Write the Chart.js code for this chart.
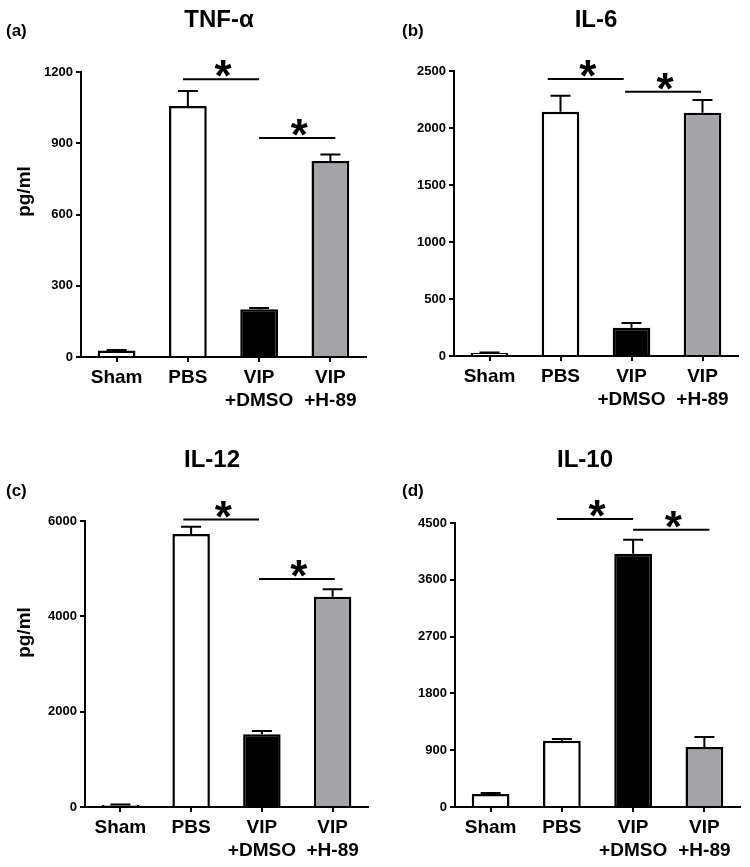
<!DOCTYPE html>
<html>
<head>
<meta charset="utf-8">
<script src="https://cdn.jsdelivr.net/npm/chart.js@4.4.1/dist/chart.umd.min.js"></script>
<style>
  body { margin: 0; background: #fff; }
  #page { position: relative; width: 750px; height: 867px; font-family: 'Liberation Sans', Arial, sans-serif; color: #000; }
  canvas { position: absolute; }
  .title { position: absolute; width: 200px; text-align: center; font-weight: bold; font-size: 24px; line-height: 1; }
  .tag { position: absolute; font-weight: bold; font-size: 17px; line-height: 1; }
  .ylab { position: absolute; width: 100px; text-align: center; font-weight: bold; font-size: 19px; line-height: 1; transform: rotate(-90deg); }
</style>
</head>
<body>
<div id="page">
  <canvas id="tnf" width="375" height="430" style="left:0;top:0"></canvas>
  <canvas id="il6" width="375" height="430" style="left:375px;top:0"></canvas>
  <canvas id="il12" width="375" height="437" style="left:0;top:430px"></canvas>
  <canvas id="il10" width="375" height="437" style="left:375px;top:430px"></canvas>

  <div class="title" style="left:119px;top:7px">TNF-α</div>
  <div class="title" style="left:496px;top:7px">IL-6</div>
  <div class="title" style="left:112px;top:447px">IL-12</div>
  <div class="title" style="left:485px;top:447px">IL-10</div>

  <div class="tag" style="left:6px;top:22px">(a)</div>
  <div class="tag" style="left:402px;top:22px">(b)</div>
  <div class="tag" style="left:6px;top:482px">(c)</div>
  <div class="tag" style="left:402px;top:482px">(d)</div>

  <div class="ylab" style="left:-27px;top:182px">pg/ml</div>
  <div class="ylab" style="left:-27px;top:623px">pg/ml</div>
</div>
<script>
// --- datos ---
const groups = [['Sham'], ['PBS'], ['VIP', '+DMSO'], ['VIP', '+H-89']];
const barColors = ['#ffffff', '#ffffff', '#000000', '#a4a4a8'];

const tnfMean = [27, 1057, 201, 825];
const tnfSem = [3, 63, 5, 28];
const tnfTicks = [0, 300, 600, 900, 1200];
const tnfSig = [[0.93, 2.0, 1170], [2.0, 3.07, 922]];

const il6Mean = [26, 2143, 248, 2134];
const il6Sem = [5, 140, 42, 111];
const il6Ticks = [0, 500, 1000, 1500, 2000, 2500];
const il6Sig = [[0.82, 1.89, 2430], [1.91, 2.98, 2318]];

const il12Mean = [40, 5727, 1525, 4412];
const il12Sem = [12, 153, 69, 154];
const il12Ticks = [0, 2000, 4000, 6000];
const il12Sig = [[0.89, 1.96, 6030], [1.96, 3.03, 4783]];

const il10Mean = [206, 1050, 4013, 950];
const il10Sem = [16, 27, 222, 159];
const il10Ticks = [0, 900, 1800, 2700, 3600, 4500];
const il10Sig = [[0.93, 2.0, 4563], [2.0, 3.07, 4394]];

Chart.defaults.font.family = "'Liberation Sans', Arial, sans-serif";
Chart.defaults.color = '#000';

// barras de error (solo hacia arriba) y marcas de significancia
const extras = {
    id: 'extras',
    afterDatasetsDraw(chart, args, opts) {
        const ctx = chart.ctx;
        const xs = chart.scales.x;
        const ys = chart.scales.y;
        const meta = chart.getDatasetMeta(0);
        ctx.save();
        ctx.strokeStyle = '#000';
        ctx.lineWidth = 2;
        opts.sem.forEach((s, i) => {
            const x = meta.data[i].x;
            const y0 = ys.getPixelForValue(opts.mean[i]);
            const y1 = ys.getPixelForValue(opts.mean[i] + s);
            ctx.beginPath();
            ctx.moveTo(x, y0);
            ctx.lineTo(x, y1);
            ctx.moveTo(x - 10, y1);
            ctx.lineTo(x + 10, y1);
            ctx.stroke();
        });
        ctx.fillStyle = '#000';
        ctx.font = "bold 44px 'Liberation Sans', Arial, sans-serif";
        ctx.textAlign = 'center';
        ctx.textBaseline = 'alphabetic';
        opts.sig.forEach(([a, b, v]) => {
            const x0 = xs.getPixelForValue(a);
            const x1 = xs.getPixelForValue(b);
            const y = ys.getPixelForValue(v);
            ctx.beginPath();
            ctx.moveTo(x0, y);
            ctx.lineTo(x1, y);
            ctx.stroke();
            ctx.fillText('*', (x0 + x1) / 2 + 2, y + 12);
        });
        ctx.restore();
    }
};

function makePanel(id, mean, sem, ticks, sig, box) {
    const max = ticks[ticks.length - 1];
    return new Chart(document.getElementById(id), {
        type: 'bar',
        data: {
            labels: groups,
            datasets: [{
                data: mean,
                backgroundColor: barColors,
                borderColor: '#000',
                borderWidth: 2.5,
                barPercentage: 0.53,
                categoryPercentage: 1.0
            }]
        },
        options: {
            responsive: false,
            animation: false,
            devicePixelRatio: 1,
            layout: { padding: { top: box.top, right: box.right, left: 0, bottom: 0 } },
            plugins: {
                legend: { display: false },
                tooltip: { enabled: false },
                extras: { mean: mean, sem: sem, sig: sig }
            },
            scales: {
                x: {
                    afterFit(s) { s.height = box.xh; },
                    border: { color: '#000', width: 2 },
                    grid: { drawOnChartArea: false, offset: false, tickLength: 5, color: '#000', lineWidth: 2 },
                    ticks: { font: { size: 19, weight: 'bold', lineHeight: 1.22 }, padding: 4, maxRotation: 0, autoSkip: false }
                },
                y: {
                    min: 0,
                    max: max,
                    afterFit(s) { s.width = box.yw; },
                    afterBuildTicks(s) { s.ticks = ticks.map(v => ({ value: v })); },
                    border: { color: '#000', width: 2 },
                    grid: { drawOnChartArea: false, tickLength: 5, color: '#000', lineWidth: 2 },
                    ticks: { font: { size: 13, weight: 'bold' }, padding: 3, callback: v => String(v) }
                }
            }
        },
        plugins: [extras]
    });
}

makePanel('tnf', tnfMean, tnfSem, tnfTicks, tnfSig, { top: 72, right: 9, xh: 73, yw: 81 });
makePanel('il6', il6Mean, il6Sem, il6Ticks, il6Sig, { top: 71, right: 12, xh: 74, yw: 79 });
makePanel('il12', il12Mean, il12Sem, il12Ticks, il12Sig, { top: 91, right: 7, xh: 60, yw: 85 });
makePanel('il10', il10Mean, il10Sem, il10Ticks, il10Sig, { top: 93, right: 10, xh: 60, yw: 80 });
</script>
</body>
</html>
